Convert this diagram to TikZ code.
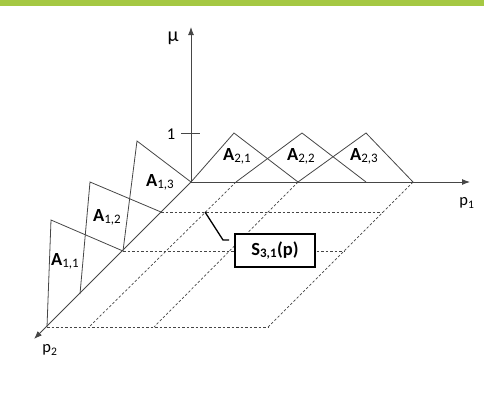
\documentclass[tikz,border=0pt]{standalone}
\usepackage{fontspec}
\setmainfont{Carlito}
\usetikzlibrary{arrows.meta}
\definecolor{barGreen}{RGB}{165,200,67}
\definecolor{lineGray}{RGB}{70,70,70}
\newcommand{\mfSet}[2]{\textbf{#1}\textsubscript{#2}}

\begin{document}
\begin{tikzpicture}[x=1pt,y=-1pt,
  axis/.style={lineGray, line width=0.9pt, -{Latex[length=8pt,width=6pt]}},
  mf/.style={lineGray, line width=0.8pt},
  grid/.style={lineGray, line width=0.7pt, dash pattern=on 2.5pt off 2pt},
  setlabel/.style={anchor=base west, inner sep=0pt, font=\fontsize{18.5}{20}\selectfont},
  axlabel/.style={inner sep=0pt, font=\fontsize{16.5}{18}\selectfont}]
\useasboundingbox (0,0) rectangle (484,392);
\fill[barGreen] (0,0) rectangle (484,6);
% points on the axes
\coordinate (O) at (191,182);
\coordinate (muTip) at (191,27);
\coordinate (pOneTip) at (470,182);
\coordinate (pTwoTip) at (34,339);
\coordinate (q1) at (236,182);
\coordinate (q2) at (298,182);
\coordinate (q3) at (366,182);
\coordinate (q4) at (413,182);
\coordinate (r1) at (161,212);
\coordinate (r2) at (123,251);
\coordinate (r3) at (80,294);
\coordinate (r4) at (47,327);
% grid
\coordinate (g1) at (89,327);
\coordinate (g2) at (154,327);
\coordinate (g3) at (268,327);
\coordinate (h1) at (382,212);
\coordinate (h2) at (345,251);
\draw[grid] (q1) -- (g1);
\draw[grid] (q2) -- (g2);
\draw[grid] (q4) -- (g3);
\draw[grid] (r1) -- (h1);
\draw[grid] (r2) -- (h2);
\draw[grid] (r4) -- (g3);
% axes
\draw[axis] (O) -- (muTip);
\draw[axis] (O) -- (pOneTip);
\draw[axis] (O) -- (pTwoTip);
\coordinate (tickL) at (181,133);
\coordinate (tickR) at (200,133);
\draw[mf] (tickL) -- (tickR);
\node[axlabel, font=\fontsize{20}{22}\selectfont] (mu) at (173,38) {μ};
\node[axlabel] (one) at (171,134) {1};
\node[axlabel] (pOne) at (467,203) {p\textsubscript{1}};
\node[axlabel] (pTwo) at (50,350) {p\textsubscript{2}};
% membership functions on p1
\coordinate (a21) at (234,133);
\coordinate (a22) at (302,133);
\coordinate (a23) at (366,133);
\draw[mf] (O) -- (a21) -- (q2);
\draw[mf] (q1) -- (a22) -- (q3);
\draw[mf] (q2) -- (a23) -- (q4);
% membership functions on p2
\coordinate (a11) at (51,220);
\coordinate (a12) at (90,182);
\coordinate (a13) at (137,141);
\draw[mf] (r4) -- (a11) -- (r2);
\draw[mf] (r3) -- (a12) -- (r1);
\draw[mf] (r2) -- (a13) -- (O);
\node[setlabel] (A11) at (51,265) {\mfSet{A}{1,1}};
\node[setlabel] (A12) at (93,221) {\mfSet{A}{1,2}};
\node[setlabel] (A13) at (146,186) {\mfSet{A}{1,3}};
\node[setlabel] (A21) at (223,160) {\mfSet{A}{2,1}};
\node[setlabel] (A22) at (287,160) {\mfSet{A}{2,2}};
\node[setlabel] (A23) at (350,160) {\mfSet{A}{2,3}};
% rule box
\node[draw=black, line width=1.3pt, fill=white, minimum width=80pt, minimum height=33pt,
  inner sep=0pt, font=\fontsize{18.5}{20}\selectfont\bfseries] (S31) at (275,250.5)
  {S\textsubscript{3,1}(p)};
\coordinate (leadStart) at (205,212);
\coordinate (leadBend) at (223,240);
\coordinate (leadEnd) at (229,240);
\draw[black, line width=1.3pt] (leadStart) -- (leadBend) -- (leadEnd);
\end{tikzpicture}
\end{document}
